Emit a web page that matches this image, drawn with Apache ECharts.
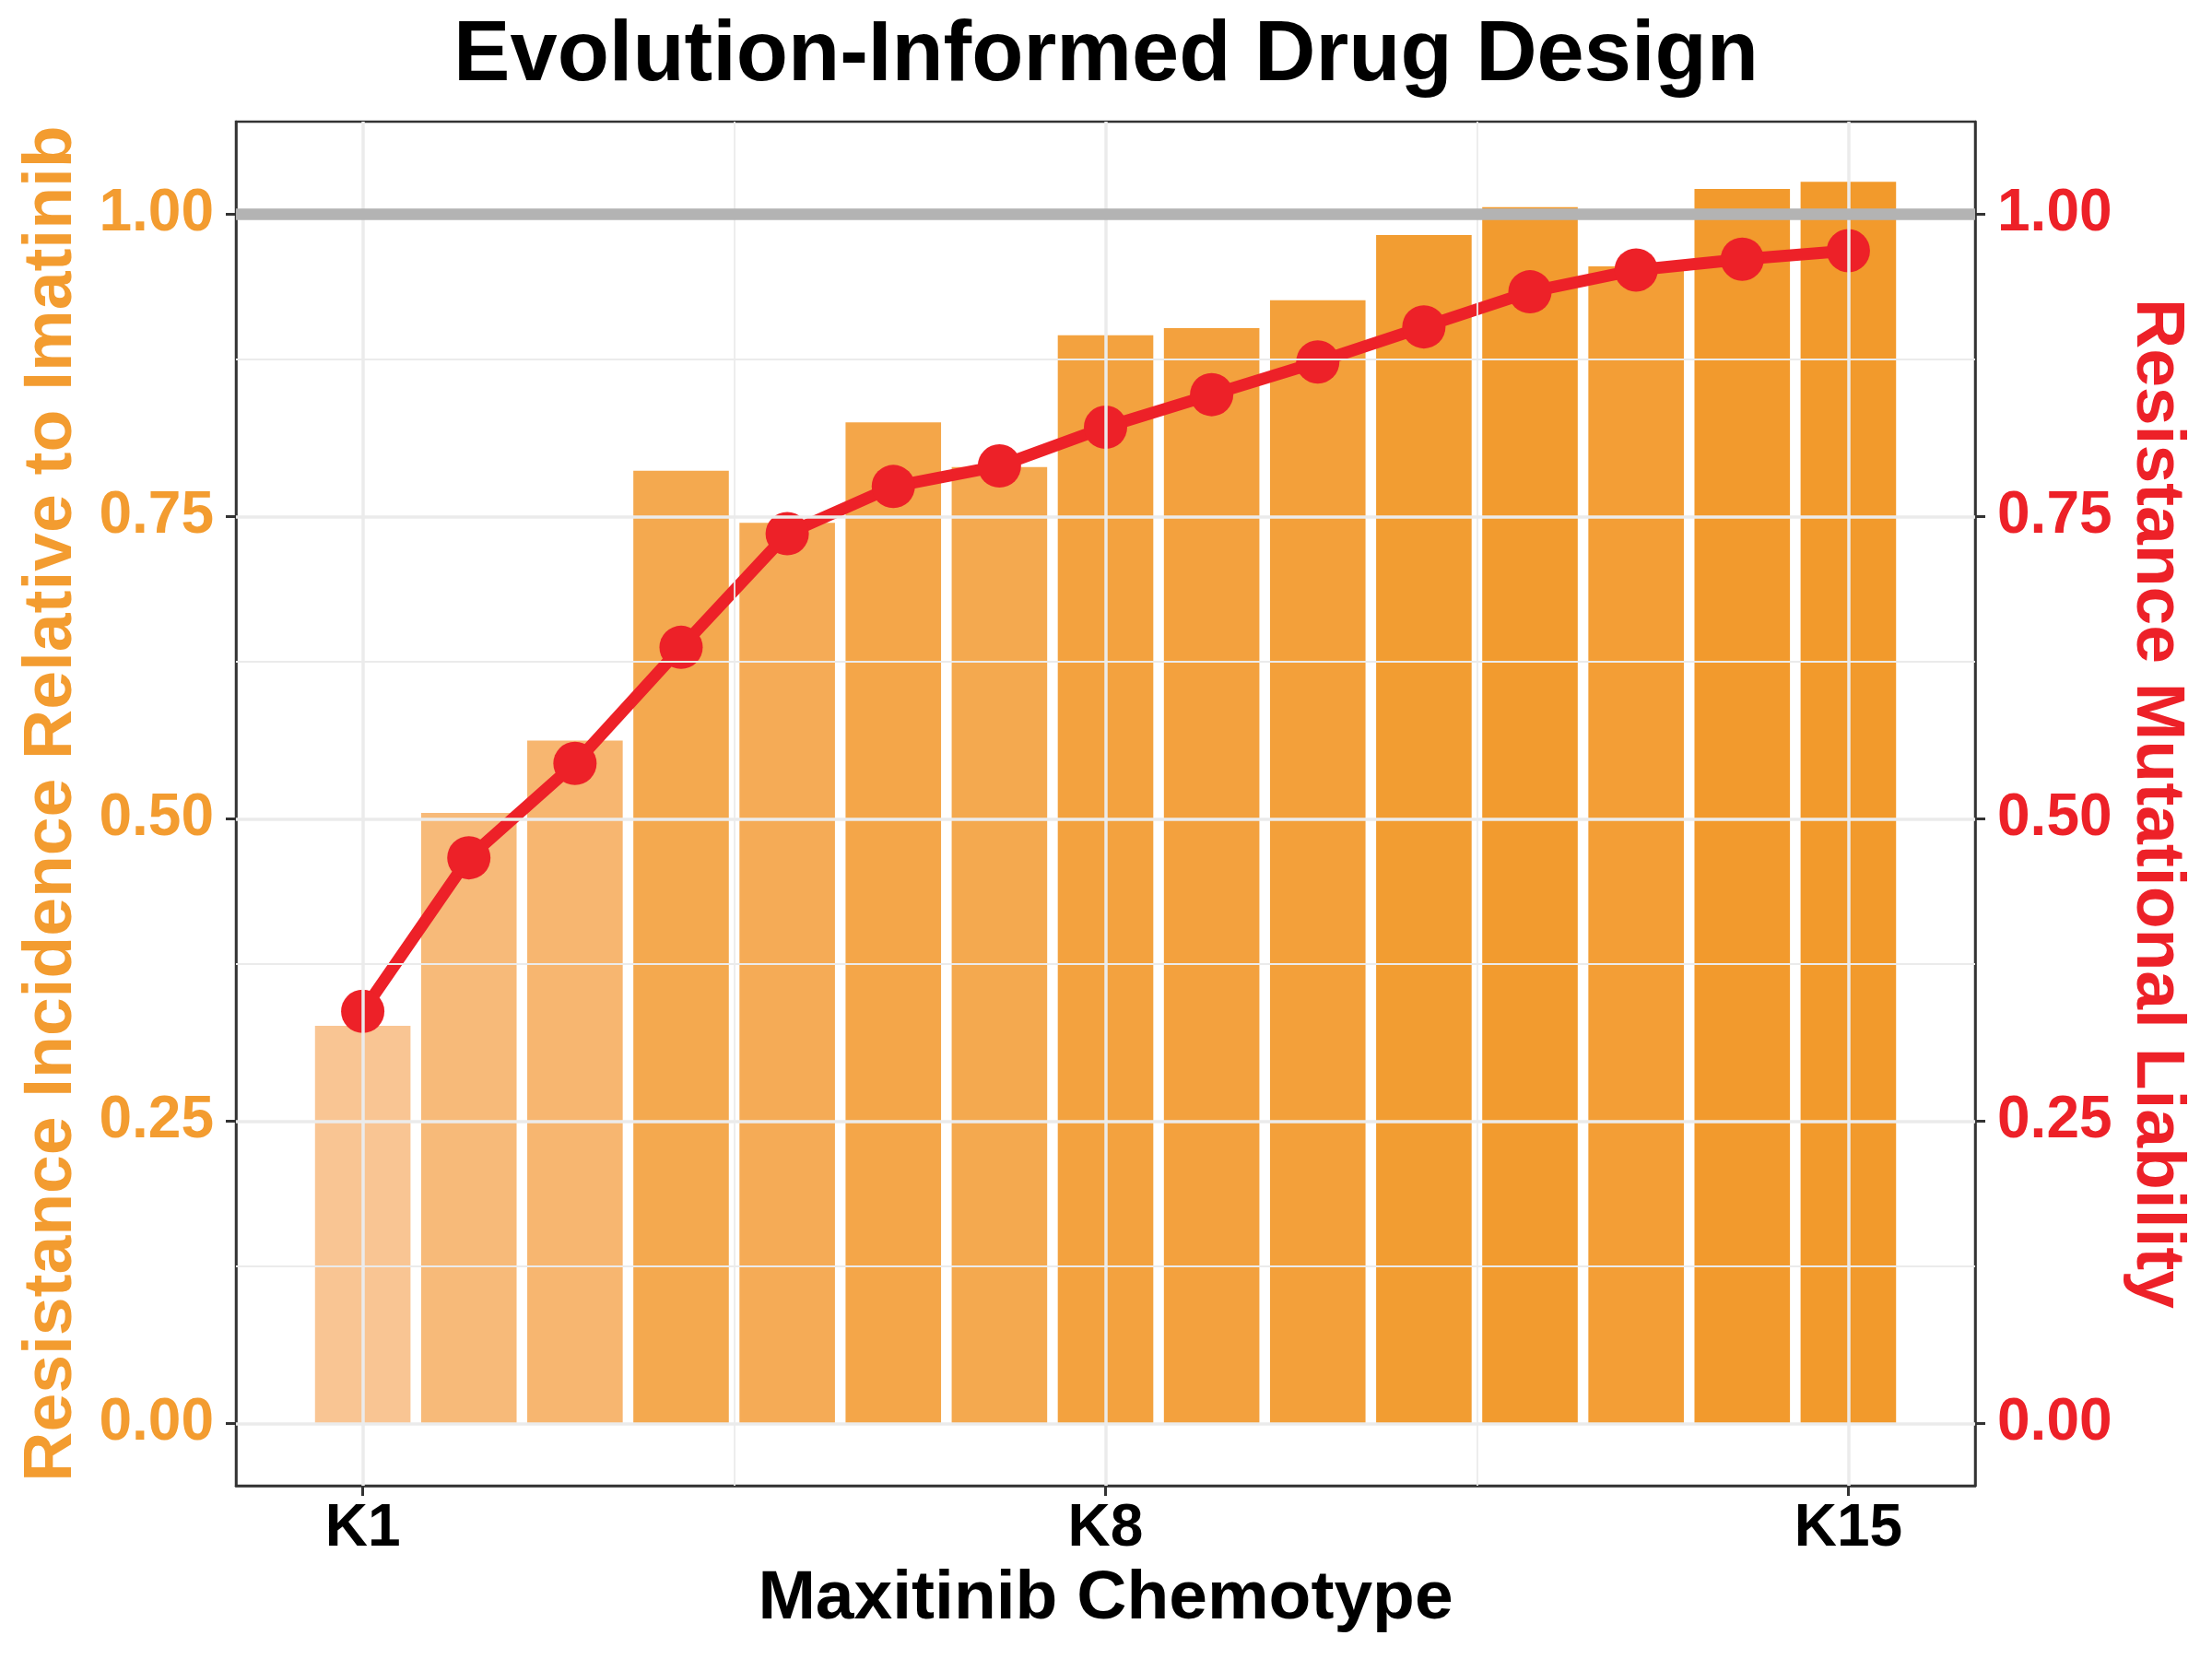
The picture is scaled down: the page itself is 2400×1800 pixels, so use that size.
<!DOCTYPE html>
<html>
<head>
<meta charset="utf-8">
<script src="https://cdn.jsdelivr.net/npm/echarts@6/dist/echarts.min.js"></script>
<style>html,body{margin:0;padding:0;background:#fff;}#chart{width:2400px;height:1800px;}</style>
</head>
<body>
<div id="chart"></div>
<script>
// ---- data ----
const categories = ['K1','K2','K3','K4','K5','K6','K7','K8','K9','K10','K11','K12','K13','K14','K15'];
const xPositions = [1,2,3,4,5,6,7,8,9,10,11,12,13,14,15];
const incidence = [0.329,0.505,0.565,0.788,0.745,0.828,0.791,0.900,0.906,0.929,0.983,1.006,0.957,1.021,1.027];
const liability = [0.341,0.468,0.546,0.642,0.736,0.775,0.792,0.824,0.851,0.878,0.907,0.936,0.954,0.963,0.970];
const yTicks = [0,0.25,0.5,0.75,1.0];
const yMinorTicks = [0.125,0.375,0.625,0.875];
const xTicks = [1,8,15];
const xMinorTicks = [4.5,11.5];
const referenceLevel = 1.0;

// ---- layout / style ----
const W = 2400, H = 1800;
const grid = {left:256, right:257, top:132, bottom:188};
const barUnits = 0.9;
const xMin = 0.55 - 0.745, xMax = 15.45 + 0.745;
const yMin = -0.0513, yMax = 1.0767;
const barWidthPx = (W - grid.left - grid.right) / (xMax - xMin) * barUnits;
const FONT = "'Liberation Sans', Arial, sans-serif";
const ORANGE = '#F39C30';
const RED = '#ED2128';
const GRIDC = '#EBEBEB';

const chart = echarts.init(document.getElementById('chart'), null, {renderer:'canvas'});

const gridLines = [];
yTicks.forEach(v => gridLines.push({yAxis:v, lineStyle:{color:GRIDC, width:3.5, type:'solid'}}));
yMinorTicks.forEach(v => gridLines.push({yAxis:v, lineStyle:{color:GRIDC, width:1.8, type:'solid'}}));
xTicks.forEach(v => gridLines.push({xAxis:v, lineStyle:{color:GRIDC, width:3.5, type:'solid'}}));
xMinorTicks.forEach(v => gridLines.push({xAxis:v, lineStyle:{color:GRIDC, width:1.8, type:'solid'}}));
gridLines.push({yAxis:referenceLevel, lineStyle:{color:'#B3B3B3', width:12.5, type:'solid'}});

const option = {
  backgroundColor:'#fff',
  animation:false,
  title:{
    text:'Evolution-Informed Drug Design',
    left:'center', top:11,
    textStyle:{fontFamily:FONT, fontWeight:'bold', fontSize:92, color:'#000'}
  },
  grid:{left:grid.left, right:grid.right, top:grid.top, bottom:grid.bottom, show:true, borderColor:'#333', borderWidth:2.5, backgroundColor:'transparent', z:5},
  visualMap:{
    show:false, type:'continuous', seriesIndex:1, dimension:1,
    min:Math.min(...incidence), max:Math.max(...incidence),
    inRange:{color:['#F9C593','#F29A2C']}
  },
  xAxis:{
    type:'value', min:xMin, max:xMax,
    name:'Maxitinib Chemotype', nameLocation:'middle', nameGap:86,
    nameTextStyle:{fontFamily:FONT, fontWeight:'bold', fontSize:75, color:'#000'},
    axisLine:{show:true, onZero:false, lineStyle:{color:'#333', width:2.5}},
    axisTick:{show:true, length:11, lineStyle:{color:'#333', width:3}, customValues:xTicks},
    axisLabel:{show:true, margin:15, fontFamily:FONT, fontWeight:'bold', fontSize:64, color:'#000',
      customValues:xTicks, formatter:v => categories[xPositions.indexOf(Math.round(v))]},
    splitLine:{show:false}, minorSplitLine:{show:false}
  },
  yAxis:[{
    type:'value', min:yMin, max:yMax, position:'left',
    name:'Resistance Incidence Relative to Imatinib', nameLocation:'middle', nameGap:162, nameRotate:90,
    nameTextStyle:{fontFamily:FONT, fontWeight:'bold', fontSize:75, color:ORANGE},
    axisLine:{show:true, onZero:false, lineStyle:{color:'#333', width:2.5}},
    axisTick:{show:true, length:11, lineStyle:{color:'#333', width:3}, customValues:yTicks},
    axisLabel:{show:true, margin:24, fontFamily:FONT, fontWeight:'bold', fontSize:64, color:ORANGE,
      customValues:yTicks, formatter:v => v.toFixed(2)},
    splitLine:{show:false}
  },{
    type:'value', min:yMin, max:yMax, position:'right',
    name:'Resistance Mutational Liability', nameLocation:'middle', nameGap:139, nameRotate:-90,
    nameTextStyle:{fontFamily:FONT, fontWeight:'bold', fontSize:75, color:RED},
    axisLine:{show:true, onZero:false, lineStyle:{color:'#333', width:2.5}},
    axisTick:{show:true, length:11, lineStyle:{color:'#333', width:3}, customValues:yTicks},
    axisLabel:{show:true, margin:24, fontFamily:FONT, fontWeight:'bold', fontSize:64, color:RED,
      customValues:yTicks, formatter:v => v.toFixed(2)},
    splitLine:{show:false}
  }],
  series:[
    {
      type:'line', data:[], z:1, silent:true,
      markLine:{silent:true, symbol:'none', label:{show:false}, animation:false, data:gridLines}
    },
    {
      type:'bar', z:2, barWidth:barWidthPx,
      data:xPositions.map((x,i) => [x, incidence[i]]),
      itemStyle:{borderWidth:0}
    },
    {
      type:'line', z:3, yAxisIndex:1,
      data:xPositions.map((x,i) => [x, liability[i]]),
      symbol:'circle', symbolSize:47, showSymbol:true,
      lineStyle:{color:RED, width:13},
      itemStyle:{color:RED, borderWidth:0}
    }
  ]
};
chart.setOption(option);
</script>
</body>
</html>
